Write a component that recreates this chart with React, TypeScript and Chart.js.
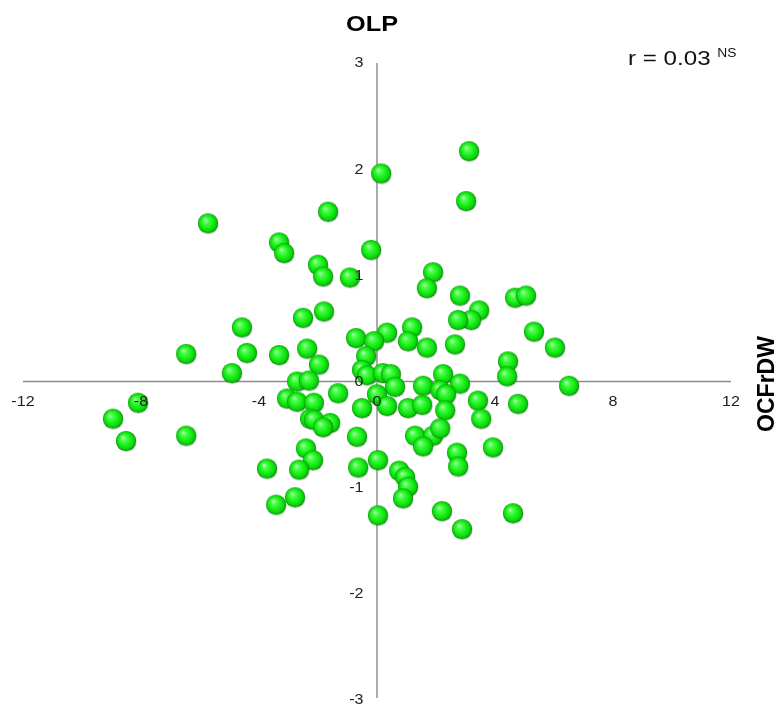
import React, { useEffect, useRef } from "react";
import { Chart, registerables } from "chart.js";

Chart.register(...registerables);

const titleText = "OLP";
const sideTitle = "OCFrDW";
const corrText = "r = 0.03";
const corrSup = "NS";
const xTicks = [-12, -8, -4, 0, 4, 8, 12];
const yTicks = [3, 2, 1, 0, -1, -2, -3];

const xValues = [
  3.12, 0.14, 3.02, -5.73, -1.66, -3.32, -3.15, -0.2, -2.0, -1.83, -0.92, 1.9, 1.69, 2.81, 4.68, 5.05,
  3.46, 3.19, 2.75, -1.8, -2.51, -4.58, 0.34, 1.19, -0.71, -0.1, 5.32,
  1.05, 1.69, 2.64, 6.03, -6.47, -4.41, -3.32, -2.37, -1.97, -0.37, 4.44, 4.41, -4.92, -0.51, -0.34, 0.2, 0.47, 2.24,
  -2.71, -2.31, 6.51, 0.61, 1.56, 2.81, 2.14, 2.34, -1.32, 0.0, -3.05, -2.71, -2.14, -0.51, 0.34, 1.05, 1.53, 2.31, 3.42, 4.78, -8.1,
  3.53, -2.27, -2.14, -1.59, -1.83, -8.95, -8.51, -6.47, -0.68, 1.29, 1.9, 2.14, 1.56, 3.93, -2.41,
  2.71, 2.75, -2.17, -3.73, -2.64, -0.64, 0.03, 0.75, 0.95, 1.05, 0.88, -2.78, -3.42, 0.03, 2.2, 2.88, 4.61,
];
const yValues = [
  2.17, 1.96, 1.7, 1.49, 1.6, 1.31, 1.21, 1.24, 1.1, 0.99, 0.98, 1.03, 0.88, 0.81, 0.79, 0.81,
  0.67, 0.58, 0.58, 0.66, 0.6, 0.51, 0.46, 0.51, 0.41, 0.38, 0.47,
  0.38, 0.32, 0.35, 0.32, 0.26, 0.27, 0.25, 0.31, 0.16, 0.24, 0.19, 0.05, 0.08, 0.11, 0.06, 0.08, 0.07, 0.07,
  0.0, 0.01, -0.04, -0.05, -0.04, -0.02, -0.08, -0.12, -0.11, -0.12, -0.16, -0.19, -0.2, -0.25, -0.23, -0.25, -0.22, -0.27, -0.18, -0.21, -0.2,
  -0.35, -0.35, -0.36, -0.39, -0.43, -0.35, -0.56, -0.51, -0.52, -0.51, -0.51, -0.44, -0.61, -0.62, -0.63,
  -0.67, -0.8, -0.74, -0.82, -0.83, -0.81, -0.74, -0.84, -0.9, -0.99, -1.1, -1.09, -1.16, -1.26, -1.22, -1.39, -1.24,
];

function makeSphere(): HTMLCanvasElement {
  const size = 24;
  const c = document.createElement("canvas");
  c.width = size;
  c.height = size;
  const ctx = c.getContext("2d")!;
  const cx = size / 2;
  const cy = size / 2;
  const r = 10.1;
  ctx.beginPath();
  ctx.arc(cx + 0.5, cy + 0.8, r, 0, Math.PI * 2);
  ctx.fillStyle = "rgba(0,70,0,0.25)";
  ctx.fill();
  const g = ctx.createRadialGradient(cx - 3, cy - 3.5, 0.5, cx, cy, r);
  g.addColorStop(0, "#b0ffb0");
  g.addColorStop(0.22, "#4cff4c");
  g.addColorStop(0.55, "#1ef01e");
  g.addColorStop(0.85, "#0ad20a");
  g.addColorStop(1, "#068806");
  ctx.beginPath();
  ctx.arc(cx, cy, r, 0, Math.PI * 2);
  ctx.fillStyle = g;
  ctx.fill();
  return c;
}

const SX = 1.15;

function drawText(ctx: CanvasRenderingContext2D, text: string, x: number, y: number, align: "left" | "center" | "right") {
  ctx.save();
  ctx.translate(x, y);
  ctx.scale(SX, 1);
  ctx.textAlign = align;
  ctx.fillText(text, 0, 0);
  ctx.restore();
}

const axesPlugin = {
  id: "centerAxes",
  beforeDatasetsDraw(chart: any) {
    const ctx = chart.ctx as CanvasRenderingContext2D;
    const xs = chart.scales.x;
    const ys = chart.scales.y;
    const x0 = xs.getPixelForValue(0);
    const y0 = ys.getPixelForValue(0);
    ctx.save();
    ctx.strokeStyle = "#8c8c8c";
    ctx.lineWidth = 1.3;
    ctx.beginPath();
    ctx.moveTo(xs.getPixelForValue(xTicks[0]), y0);
    ctx.lineTo(xs.getPixelForValue(xTicks[xTicks.length - 1]), y0);
    ctx.stroke();
    ctx.strokeStyle = "#ababab";
    ctx.lineWidth = 2;
    ctx.beginPath();
    ctx.moveTo(x0, ys.getPixelForValue(yTicks[0]));
    ctx.lineTo(x0, ys.getPixelForValue(yTicks[yTicks.length - 1]) - 2);
    ctx.stroke();
    ctx.restore();
  },
  afterDraw(chart: any) {
    const ctx = chart.ctx as CanvasRenderingContext2D;
    const xs = chart.scales.x;
    const ys = chart.scales.y;
    const x0 = xs.getPixelForValue(0);
    const y0 = ys.getPixelForValue(0);
    ctx.save();
    ctx.fillStyle = "#222";
    ctx.font = "14px 'Liberation Sans', Arial, sans-serif";
    ctx.textBaseline = "middle";
    for (const t of xTicks) {
      drawText(ctx, String(t), xs.getPixelForValue(t), y0 + 20.5, "center");
    }
    for (const t of yTicks) {
      drawText(ctx, String(t), x0 - 13.5, ys.getPixelForValue(t) + 0.5, "right");
    }
    ctx.fillStyle = "#000";
    ctx.font = "bold 22px 'Liberation Sans', Arial, sans-serif";
    ctx.textBaseline = "alphabetic";
    drawText(ctx, titleText, 372, 31, "center");
    ctx.fillStyle = "#111";
    ctx.font = "21px 'Liberation Sans', Arial, sans-serif";
    drawText(ctx, corrText, 628, 65, "left");
    const w = ctx.measureText(corrText + " ").width * SX;
    ctx.font = "12px 'Liberation Sans', Arial, sans-serif";
    drawText(ctx, corrSup, 628 + w, 57, "left");
    ctx.fillStyle = "#000";
    ctx.font = "bold 23px 'Liberation Sans', Arial, sans-serif";
    ctx.translate(774, 384);
    ctx.rotate(-Math.PI / 2);
    ctx.textAlign = "center";
    ctx.textBaseline = "alphabetic";
    ctx.fillText(sideTitle, 0, 0);
    ctx.restore();
  },
};

export default function App() {
  const ref = useRef<HTMLCanvasElement | null>(null);
  useEffect(() => {
    if (!ref.current) return;
    const sphere = makeSphere();
    const data = xValues.map((x, i) => ({ x, y: yValues[i] }));
    const chart = new Chart(ref.current, {
      type: "scatter",
      data: {
        datasets: [
          {
            data,
            pointStyle: sphere as any,
            pointRadius: 10,
            pointHoverRadius: 10,
            clip: false as any,
          },
        ],
      },
      options: {
        responsive: false,
        animation: false,
        devicePixelRatio: 1,
        layout: { padding: { left: 23, right: 48, top: 63, bottom: 11 } },
        plugins: { legend: { display: false }, tooltip: { enabled: false }, title: { display: false } },
        events: [],
        scales: {
          x: { type: "linear", min: -12, max: 12, display: false },
          y: { type: "linear", min: -3, max: 3, display: false },
        },
      },
      plugins: [axesPlugin],
    });
    return () => chart.destroy();
  }, []);
  return (
    <div style={{ position: "fixed", left: 0, top: 0, width: 779, height: 711, background: "#fff" }}>
      <canvas ref={ref} width={779} height={711} style={{ display: "block" }} />
    </div>
  );
}
